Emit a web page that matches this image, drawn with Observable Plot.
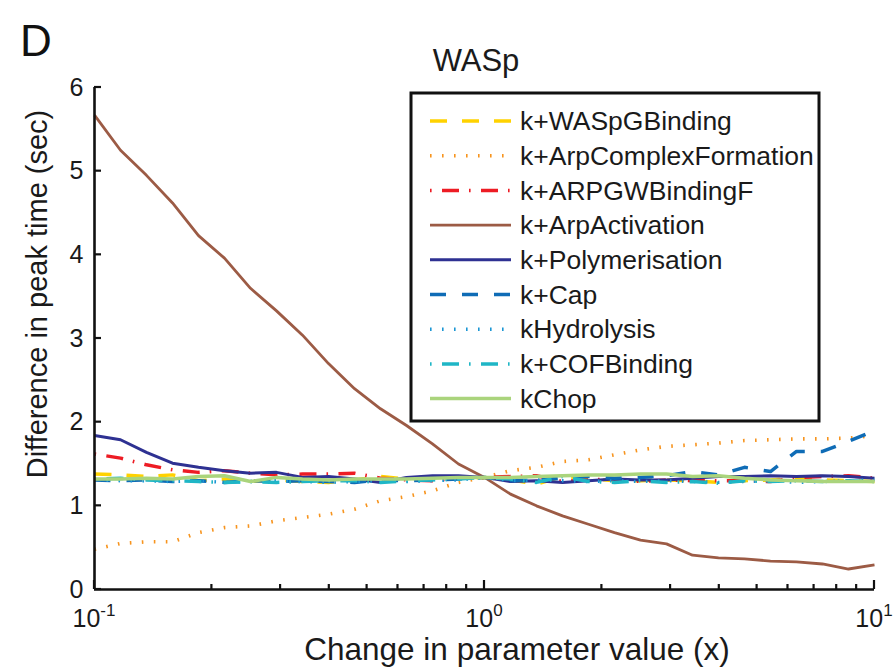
<!DOCTYPE html>
<html>
<head>
<meta charset="utf-8">
<script src="https://cdn.jsdelivr.net/npm/d3@7"></script>
<script src="https://cdn.jsdelivr.net/npm/@observablehq/plot@0.6"></script>
<style>
  body { margin: 0; background: #fff; }
  #chart { width: 895px; height: 671px; }
</style>
</head>
<body>
<div id="chart"></div>
<script>
// Parameter multipliers (15 per decade, 0.1 to 10)
const multipliers = [0.1, 0.1166, 0.1359, 0.1585, 0.1848, 0.2154, 0.2512, 0.2929, 0.3415, 0.3981,
  0.4642, 0.5412, 0.6310, 0.7356, 0.8577, 1, 1.166, 1.359, 1.585, 1.848,
  2.154, 2.512, 2.929, 3.415, 3.981, 4.642, 5.412, 6.310, 7.356, 8.577, 10];

// Difference in peak time (sec) for each perturbed rate constant
const WASpGBinding = [1.38, 1.37, 1.35, 1.37, 1.30, 1.32, 1.29, 1.31, 1.29, 1.28, 1.31, 1.35, 1.32, 1.35, 1.33, 1.34,
  1.31, 1.26, 1.35, 1.33, 1.30, 1.30, 1.31, 1.30, 1.28, 1.30, 1.31, 1.33, 1.31, 1.30, 1.29];
const ArpComplexFormation = [0.48, 0.55, 0.57, 0.57, 0.68, 0.74, 0.76, 0.82, 0.86, 0.90, 0.96, 1.06, 1.11, 1.18, 1.28, 1.34,
  1.42, 1.46, 1.53, 1.55, 1.61, 1.67, 1.71, 1.73, 1.75, 1.78, 1.79, 1.80, 1.80, 1.81, 1.84];
const ARPGWBindingF = [1.62, 1.57, 1.49, 1.43, 1.40, 1.42, 1.39, 1.37, 1.38, 1.38, 1.39, 1.33, 1.31, 1.30, 1.33, 1.34,
  1.35, 1.36, 1.29, 1.31, 1.32, 1.29, 1.31, 1.30, 1.30, 1.30, 1.29, 1.34, 1.35, 1.36, 1.33];
const ArpActivation = [5.67, 5.25, 4.95, 4.62, 4.23, 3.96, 3.60, 3.33, 3.04, 2.70, 2.40, 2.16, 1.96, 1.74, 1.50, 1.34,
  1.14, 1.00, 0.88, 0.78, 0.68, 0.59, 0.545, 0.41, 0.377, 0.366, 0.34, 0.33, 0.305, 0.245, 0.295];
const Polymerisation = [1.84, 1.79, 1.64, 1.51, 1.46, 1.42, 1.39, 1.40, 1.34, 1.35, 1.32, 1.28, 1.34, 1.36, 1.36, 1.34,
  1.29, 1.30, 1.28, 1.30, 1.32, 1.31, 1.31, 1.33, 1.35, 1.35, 1.36, 1.35, 1.36, 1.35, 1.33];
const Cap = [1.31, 1.30, 1.31, 1.29, 1.30, 1.28, 1.30, 1.29, 1.30, 1.29, 1.28, 1.31, 1.30, 1.31, 1.32, 1.34,
  1.30, 1.31, 1.33, 1.35, 1.33, 1.34, 1.36, 1.41, 1.37, 1.46, 1.41, 1.65, 1.65, 1.77, 1.90];
const Hydrolysis = [1.31, 1.30, 1.30, 1.29, 1.30, 1.28, 1.29, 1.30, 1.29, 1.28, 1.29, 1.30, 1.29, 1.30, 1.31, 1.34,
  1.30, 1.31, 1.30, 1.29, 1.30, 1.29, 1.30, 1.29, 1.28, 1.29, 1.30, 1.28, 1.29, 1.30, 1.31];
const COFBinding = [1.32, 1.33, 1.31, 1.30, 1.29, 1.28, 1.29, 1.28, 1.29, 1.30, 1.30, 1.28, 1.30, 1.31, 1.32, 1.34,
  1.32, 1.28, 1.35, 1.29, 1.28, 1.30, 1.28, 1.29, 1.27, 1.30, 1.29, 1.30, 1.29, 1.30, 1.29];
const Chop = [1.32, 1.32, 1.33, 1.32, 1.35, 1.36, 1.29, 1.34, 1.32, 1.31, 1.32, 1.32, 1.32, 1.33, 1.34, 1.34,
  1.34, 1.35, 1.36, 1.37, 1.37, 1.38, 1.38, 1.35, 1.36, 1.33, 1.31, 1.30, 1.29, 1.29, 1.29];

const seriesNames = ["k+WASpGBinding", "k+ArpComplexFormation", "k+ARPGWBindingF", "k+ArpActivation",
  "k+Polymerisation", "k+Cap", "kHydrolysis", "k+COFBinding", "kChop"];
const seriesValues = [WASpGBinding, ArpComplexFormation, ARPGWBindingF, ArpActivation,
  Polymerisation, Cap, Hydrolysis, COFBinding, Chop];

// Line styles
const seriesColors = ["#FFD200", "#F7941E", "#ED1C24", "#9C5B45", "#2E3192", "#0F6CB6", "#1B96D4", "#1FB6C6", "#AAD47C"];
const seriesDash = ["17 15", "1.6 10.4", "1.6 10.4 17 10", null, null, "16 16", "1.6 10.4", "1.6 10.4 17 10", null];
const seriesWidth = [3.5, 3.6, 3.5, 2.8, 3, 3.5, 3.4, 3.5, 3.5];

const yTicks = [0, 1, 2, 3, 4, 5, 6];
const xMajor = [0.1, 1, 10];
const xExponent = ["-1", "0", "1"];
const xMinor = [0.2, 0.3, 0.4, 0.5, 0.6, 0.7, 0.8, 0.9, 2, 3, 4, 5, 6, 7, 8, 9];

const titleText = "WASp";
const panelLetter = "D";
const xLabel = "Change in parameter value (x)";
const yLabel = "Difference in peak time (sec)";

const FONT = "'Liberation Sans', Arial, Helvetica, sans-serif";

const rows = seriesNames.flatMap((name, s) =>
  multipliers.map((x, i) => ({name, x, y: seriesValues[s][i]})));

const lineMarks = seriesNames.map((name, s) =>
  Plot.line(rows.filter(d => d.name === name), {
    x: "x", y: "y",
    stroke: seriesColors[s],
    strokeWidth: seriesWidth[s],
    strokeDasharray: seriesDash[s] ?? undefined,
    strokeLinejoin: "round",
    strokeLinecap: "butt"
  }));

const chart = Plot.plot({
  width: 895,
  height: 671,
  marginLeft: 94,
  marginRight: 21,
  marginTop: 87,
  marginBottom: 82,
  style: {fontFamily: FONT, background: "white", color: "#1a1a1a", overflow: "visible"},
  x: {type: "log", domain: [0.1, 10], axis: null},
  y: {domain: [0, 6]},
  marks: [
    ...lineMarks,
    Plot.axisY(yTicks, {tickSize: 0, tickPadding: 11, fontSize: 25, label: null, tickFormat: d => String(d), fill: "#1a1a1a"}),
    Plot.ruleX([0.1], {stroke: "#111", strokeWidth: 2.6}),
    Plot.ruleY([0], {stroke: "#111", strokeWidth: 2.6})
  ]
});

document.getElementById("chart").appendChild(chart);

const svg = d3.select(chart);
const sx = chart.scale("x");
const sy = chart.scale("y");
const xBase = sy.apply(0);
const yBase = sx.apply(0.1);

// Inward-pointing ticks
const ticks = svg.append("g").attr("stroke", "#111").attr("stroke-width", 2.2);
xMinor.forEach(v => {
  const px = sx.apply(v);
  ticks.append("line").attr("x1", px).attr("x2", px).attr("y1", xBase).attr("y2", xBase - 5);
});
xMajor.forEach(v => {
  const px = sx.apply(v);
  ticks.append("line").attr("x1", px).attr("x2", px).attr("y1", xBase).attr("y2", xBase - 9);
});
yTicks.forEach(v => {
  const py = sy.apply(v);
  ticks.append("line").attr("x1", yBase).attr("x2", yBase + 7).attr("y1", py).attr("y2", py);
});

// Log tick labels with raised exponents
const tickLabels = svg.append("g").attr("font-family", FONT).attr("fill", "#1a1a1a");
xMajor.forEach((v, i) => {
  const t = tickLabels.append("text")
    .attr("x", sx.apply(v))
    .attr("y", 627)
    .attr("text-anchor", "middle")
    .attr("font-size", 25);
  t.append("tspan").text("10");
  t.append("tspan").attr("dy", -11).attr("font-size", 17).text(xExponent[i]);
});

// Panel letter, title and axis labels
svg.append("text").attr("x", 20).attr("y", 56).attr("font-family", FONT).attr("text-anchor", "start")
  .attr("font-size", 44).attr("fill", "#111").text(panelLetter);
svg.append("text").attr("x", 476).attr("y", 71).attr("text-anchor", "middle").attr("font-family", FONT)
  .attr("font-size", 31).attr("fill", "#1a1a1a").text(titleText);
svg.append("text").attr("x", 517).attr("y", 660).attr("text-anchor", "middle").attr("font-family", FONT)
  .attr("font-size", 31.5).attr("fill", "#1a1a1a").text(xLabel);
svg.append("text").attr("transform", "translate(47,294) rotate(-90)").attr("text-anchor", "middle")
  .attr("font-family", FONT).attr("font-size", 29).attr("fill", "#1a1a1a").text(yLabel);

// Legend box
const legend = svg.append("g");
legend.append("rect").attr("x", 411).attr("y", 93).attr("width", 408).attr("height", 328)
  .attr("fill", "white").attr("stroke", "#111").attr("stroke-width", 3);
seriesNames.forEach((name, s) => {
  const cy = 121 + s * 34.7;
  legend.append("line").attr("x1", 430).attr("x2", 511).attr("y1", cy).attr("y2", cy)
    .attr("stroke", seriesColors[s]).attr("stroke-width", seriesWidth[s])
    .attr("stroke-dasharray", seriesDash[s]);
  legend.append("text").attr("x", 520).attr("y", cy).attr("dy", "0.35em").attr("text-anchor", "start")
    .attr("font-family", FONT).attr("font-size", 26.5).attr("fill", "#1a1a1a").text(name);
});
</script>
</body>
</html>
